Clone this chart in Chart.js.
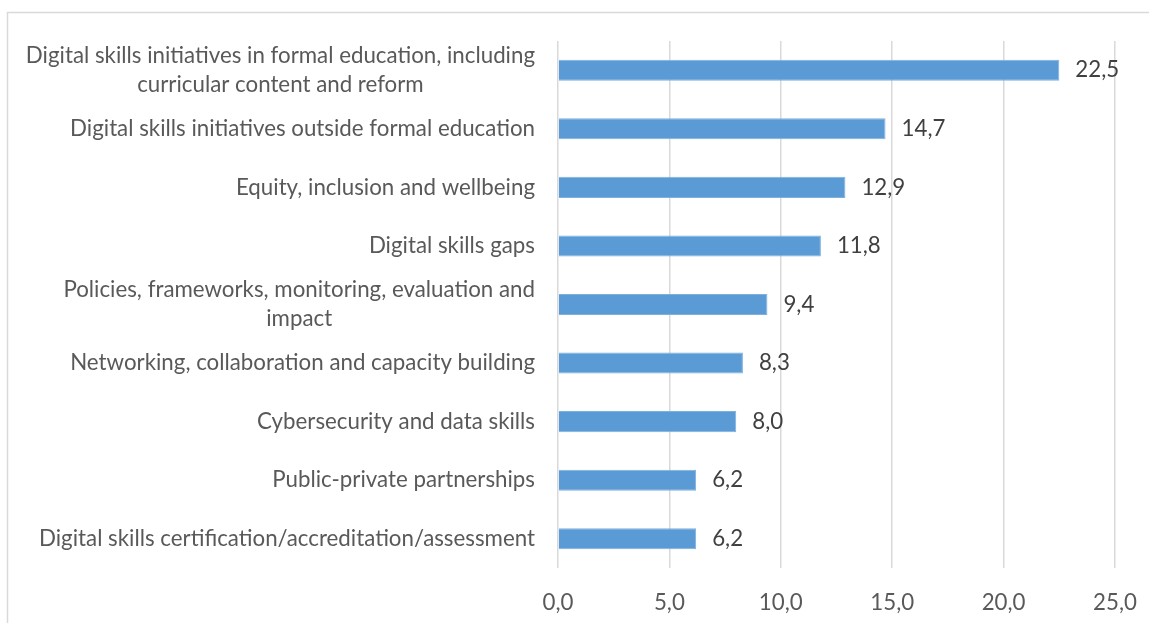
<!DOCTYPE html>
<html lang="en">
<head>
    <meta charset="UTF-8">
    <title>Digital skills topics</title>
    <script src="https://cdn.jsdelivr.net/npm/chart.js"></script>
    <style>
        body {
            margin: 0;
            background: #ffffff;
        }
        canvas {
            display: block;
        }
    </style>
</head>
<body>
    <canvas id="topicChart" width="1149" height="623"></canvas>

    <script>
        const categories = [
            ['Digital skills initiatives in formal education, including', 'curricular content and reform'],
            'Digital skills initiatives outside formal education',
            'Equity, inclusion and wellbeing',
            'Digital skills gaps',
            ['Policies, frameworks, monitoring, evaluation and', 'impact'],
            'Networking, collaboration and capacity building',
            'Cybersecurity and data skills',
            'Public-private partnerships',
            'Digital skills certification/accreditation/assessment'
        ];
        const values = [22.5, 14.7, 12.9, 11.8, 9.4, 8.3, 8.0, 6.2, 6.2];
        const xMin = 0;
        const xMax = 25;
        const xStep = 5;

        const FONT = 'Lato, "Open Sans", sans-serif';
        const FONT_SIZE = 22.3;

        function comma(v) {
            return v.toFixed(1).replace('.', ',');
        }

        // light frame round the chart, like the office export
        const framePlugin = {
            id: 'frame',
            beforeDraw(chart) {
                const c = chart.ctx;
                c.save();
                c.fillStyle = '#ffffff';
                c.fillRect(0, 0, chart.width, chart.height);
                c.strokeStyle = '#d9d9d9';
                c.lineWidth = 1.5;
                c.strokeRect(7.5, 12.5, chart.width + 20, chart.height + 20);
                c.restore();
            }
        };

        // category labels: block right aligned, lines centred inside it
        const catLabelPlugin = {
            id: 'catLabels',
            afterDraw(chart) {
                const c = chart.ctx;
                const yScale = chart.scales.y;
                const right = chart.chartArea.left - 23;
                const lineH = 29;
                c.save();
                c.font = FONT_SIZE + 'px ' + FONT;
                c.fillStyle = '#595959';
                c.textAlign = 'center';
                c.textBaseline = 'middle';
                categories.forEach((label, i) => {
                    const lines = Array.isArray(label) ? label : [label];
                    const w = Math.max(...lines.map(l => c.measureText(l).width));
                    const cx = right - w / 2;
                    const y0 = yScale.getPixelForTick(i) - (lines.length - 1) * lineH / 2;
                    lines.forEach((l, j) => c.fillText(l, cx, y0 + j * lineH));
                });
                c.restore();
            }
        };

        const valueLabelPlugin = {
            id: 'valueLabels',
            afterDatasetsDraw(chart) {
                const c = chart.ctx;
                const meta = chart.getDatasetMeta(0);
                c.save();
                c.font = FONT_SIZE + 'px ' + FONT;
                c.fillStyle = '#404040';
                c.textAlign = 'left';
                c.textBaseline = 'middle';
                meta.data.forEach((bar, i) => {
                    c.fillText(comma(values[i]), bar.x + 16, bar.y);
                });
                c.restore();
            }
        };

        const ctx = document.getElementById('topicChart').getContext('2d');
        new Chart(ctx, {
            type: 'bar',
            data: {
                labels: categories,
                datasets: [{
                    data: values,
                    backgroundColor: '#5b9bd5',
                    borderColor: '#7eb0de',
                    borderWidth: 1,
                    categoryPercentage: 1,
                    barPercentage: 0.36
                }]
            },
            options: {
                indexAxis: 'y',
                responsive: false,
                animation: false,
                layout: {
                    padding: { top: 41, right: 34, bottom: 0, left: 0 }
                },
                plugins: {
                    legend: { display: false },
                    tooltip: { enabled: false }
                },
                scales: {
                    x: {
                        min: xMin,
                        max: xMax,
                        ticks: {
                            stepSize: xStep,
                            padding: 21,
                            color: '#595959',
                            font: { family: FONT, size: FONT_SIZE },
                            callback: v => comma(v)
                        },
                        grid: {
                            color: '#d9d9d9',
                            lineWidth: 1.5,
                            drawTicks: false
                        },
                        border: { display: false },
                        afterFit(scale) {
                            scale.height = 55;
                            scale.paddingLeft = 0;
                            scale.paddingRight = 0;
                        }
                    },
                    y: {
                        ticks: { display: false },
                        grid: { display: false },
                        border: { display: false },
                        afterFit(scale) {
                            scale.width = 558;
                        }
                    }
                }
            },
            plugins: [framePlugin, catLabelPlugin, valueLabelPlugin]
        });
    </script>
</body>
</html>
